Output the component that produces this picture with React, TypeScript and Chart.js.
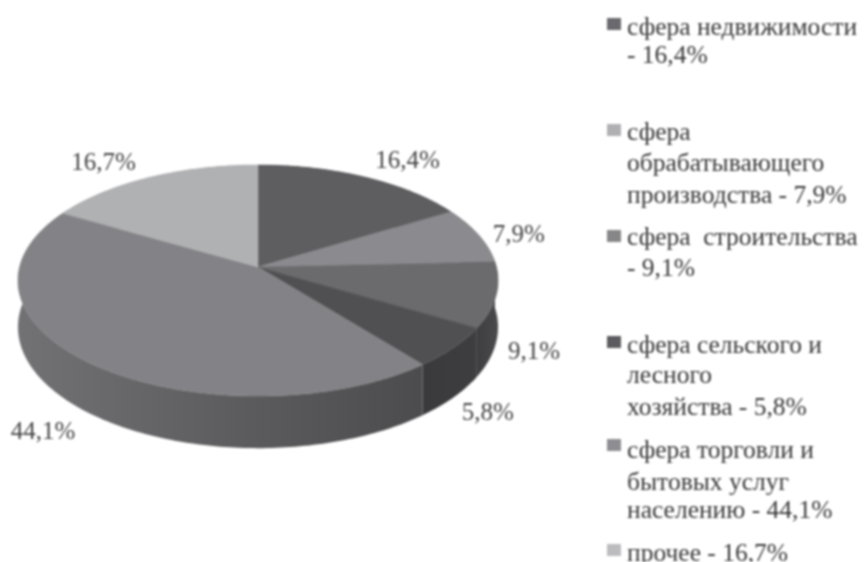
import React, { useEffect, useRef } from "react";
import { Chart, registerables } from "chart.js";

Chart.register(...registerables);

const categories = [
  "сфера недвижимости",
  "сфера обрабатывающего производства",
  "сфера строительства",
  "сфера сельского и лесного хозяйства",
  "сфера торговли и бытовых услуг населению",
  "прочее",
];
const shares = [16.4, 7.9, 9.1, 5.8, 44.1, 16.7];
const valueLabels = ["16,4%", "7,9%", "9,1%", "5,8%", "44,1%", "16,7%"];
const legendLines = [
  ["сфера недвижимости", "- 16,4%"],
  ["сфера", "обрабатывающего", "производства - 7,9%"],
  ["сфера  строительства", "- 9,1%"],
  ["сфера сельского и", "лесного", "хозяйства - 5,8%"],
  ["сфера торговли и", "бытовых услуг", "населению - 44,1%"],
  ["прочее - 16,7%"],
];

// styling & layout
const topColors = ["#5e5e61", "#8b8b8f", "#6b6b6e", "#505052", "#838387", "#b0b1b3"];
const wallStops = [
  ["#4a4a4c", "#4a4a4c"],
  ["#555557", "#4a4a4c"],
  ["#3e3e40", "#4a4a4c"],
  ["#3a3a3c", "#3e3e40"],
  ["#727275", "#5e5e60", "#4c4c4e"],
  ["#808083", "#808083"],
];
const swatchColors = ["#6a6a6e", "#b0b0b2", "#868688", "#5c5c60", "#8e8e92", "#bcbcbe"];
const labelOffsets = [[43, -16], [40, 0], [38, 57], [34, 66], [-45, 70], [-46, -14]];
const legendTops = [[13, 41], [118, 149, 181], [223, 254], [331, 361, 393], [436, 468, 496], [539]];
const swatchTops = [18, 124, 230, 336, 439, 544];

const PERSPECTIVE = 0.117;
const TILT = 0.478;
const DEPTH = 46;
const FONT = '"Liberation Serif", serif';

type P = { x: number; y: number };
function project(a: number, cx: number, cy: number, r: number, drop = 0): P {
  const X = Math.cos(a);
  const Y = Math.sin(a);
  const w = 1 - PERSPECTIVE * Y;
  return { x: cx + (r * X) / w, y: cy + (r * TILT * Y) / w + drop / w };
}
function samples(start: number, end: number): number[] {
  const n = Math.max(2, Math.ceil(((end - start) * 180) / Math.PI));
  const out: number[] = [];
  for (let i = 0; i <= n; i++) out.push(start + ((end - start) * i) / n);
  return out;
}

const projectedPie = {
  id: "projectedPie",
  beforeDatasetDraw(chart: any) {
    const ctx: CanvasRenderingContext2D = chart.ctx;
    const arcs: any[] = chart.getDatasetMeta(0).data;

    // side walls, back to front
    const order = arcs.map((_, i) => i).sort((i, j) => {
      const mid = (k: number) => Math.sin((arcs[k].startAngle + arcs[k].endAngle) / 2);
      return mid(i) - mid(j);
    });
    for (const i of order) {
      const arc = arcs[i];
      const pts = samples(arc.startAngle, arc.endAngle);
      const top = pts.map((a) => project(a, arc.x, arc.y, arc.outerRadius));
      const bottom = pts.map((a) => project(a, arc.x, arc.y, arc.outerRadius, DEPTH));
      const xs = top.map((p) => p.x);
      const grad = ctx.createLinearGradient(Math.min(...xs), 0, Math.max(...xs) + 0.01, 0);
      wallStops[i].forEach((c, s) => grad.addColorStop(s / (wallStops[i].length - 1), c));
      ctx.beginPath();
      top.forEach((p, k) => (k ? ctx.lineTo(p.x, p.y) : ctx.moveTo(p.x, p.y)));
      bottom.reverse().forEach((p) => ctx.lineTo(p.x, p.y));
      ctx.closePath();
      ctx.fillStyle = grad;
      ctx.fill();
    }

    // top face
    arcs.forEach((arc, i) => {
      ctx.beginPath();
      ctx.moveTo(arc.x, arc.y);
      samples(arc.startAngle, arc.endAngle).forEach((a) => {
        const p = project(a, arc.x, arc.y, arc.outerRadius);
        ctx.lineTo(p.x, p.y);
      });
      ctx.closePath();
      ctx.fillStyle = topColors[i];
      ctx.fill();
      ctx.strokeStyle = topColors[i];
      ctx.lineWidth = 0.5;
      ctx.stroke();
    });

    // value labels
    ctx.font = `25px ${FONT}`;
    ctx.fillStyle = "#444444";
    ctx.textAlign = "center";
    ctx.textBaseline = "middle";
    arcs.forEach((arc, i) => {
      const p = project((arc.startAngle + arc.endAngle) / 2, arc.x, arc.y, arc.outerRadius);
      ctx.fillText(valueLabels[i], p.x + labelOffsets[i][0], p.y + labelOffsets[i][1]);
    });
    return false;
  },
};

export default function App() {
  const ref = useRef<HTMLCanvasElement>(null);
  useEffect(() => {
    document.body.style.margin = "0";
    document.body.style.background = "#fff";
    const chart = new Chart(ref.current!, {
      type: "pie",
      data: {
        labels: categories,
        datasets: [{ data: shares, backgroundColor: topColors, borderWidth: 0 }],
      },
      options: {
        responsive: false,
        animation: false,
        layout: { padding: { left: 19.6, right: 367.6, top: 28.6, bottom: 56.6 } },
        plugins: { legend: { display: false }, tooltip: { enabled: false } },
      },
      plugins: [projectedPie],
    } as any);
    return () => chart.destroy();
  }, []);

  return (
    <div style={{ position: "relative", width: 864, height: 562, overflow: "hidden", filter: "blur(0.9px)" }}>
      <canvas ref={ref} width={864} height={562} style={{ position: "absolute", left: 0, top: 0 }} />
      {legendLines.map((lines, g) => (
        <React.Fragment key={g}>
          <div
            style={{
              position: "absolute",
              left: 607,
              top: swatchTops[g],
              width: 14,
              height: 12,
              background: swatchColors[g],
            }}
          />
          {lines.map((line, l) => (
            <div
              key={l}
              style={{
                position: "absolute",
                left: 627,
                top: legendTops[g][l],
                font: `25.5px ${FONT}`,
                lineHeight: "28px",
                color: "#383838",
                whiteSpace: "pre",
              }}
            >
              {line}
            </div>
          ))}
        </React.Fragment>
      ))}
    </div>
  );
}
